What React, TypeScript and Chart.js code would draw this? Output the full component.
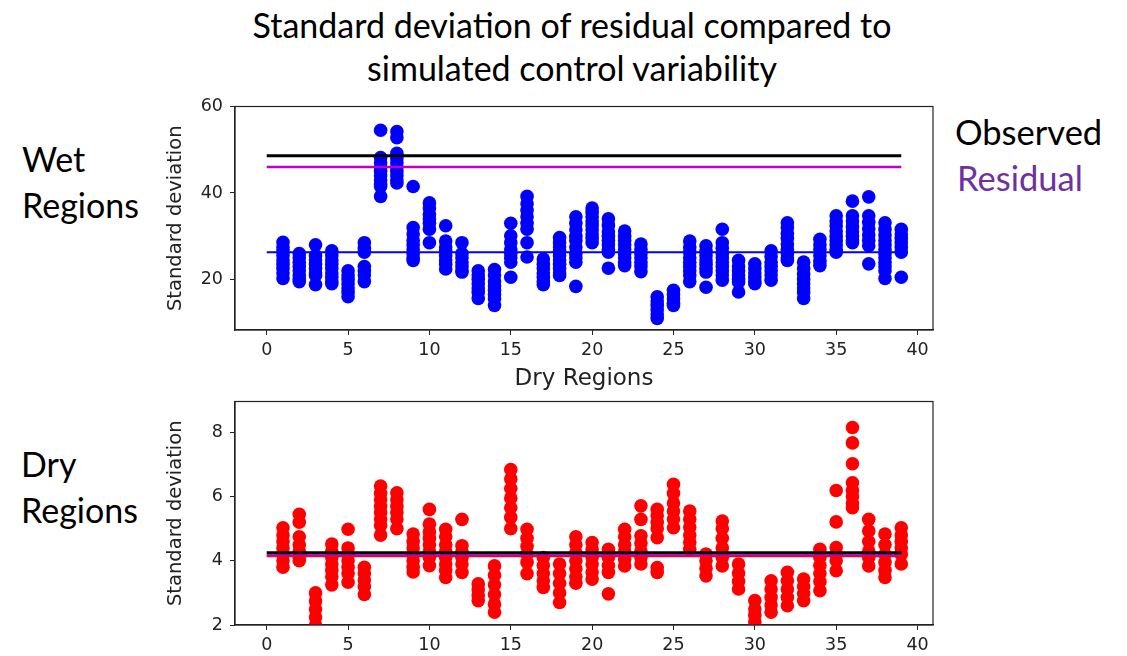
import React, { useEffect, useRef } from "react";
import { Chart, registerables } from "chart.js";

Chart.register(...registerables);

// ---------- data ----------
const regionIds = [1, 2, 3, 4, 5, 6, 7, 8, 9, 10, 11, 12, 13, 14, 15, 16, 17, 18, 19, 20, 21, 22, 23, 24, 25, 26, 27, 28, 29, 30, 31, 32, 33, 34, 35, 36, 37, 38, 39];

// Wet regions: standard deviation of residual, one list per region (ensemble members)
const wetSpread: number[][] = [
  [28.6, 27.5, 26.5, 25.5, 24.5, 23.5, 22.5, 21.5, 20.2],
  [26, 25, 24, 23, 22, 21, 20, 19.5],
  [28, 25.5, 24.5, 23.5, 22.5, 21.5, 20.9, 18.8],
  [26.6, 25.5, 24.5, 23.5, 22.5, 21.5, 20.5, 19.5, 19],
  [22, 21, 20, 19, 18, 17, 16],
  [28.5, 27.2, 26.3, 23, 22, 21, 19.5],
  [54.5, 48.2, 47, 46, 45, 44, 43, 42, 41.5, 39.2],
  [54.2, 52.8, 49.2, 48, 47, 46, 45, 44, 43, 42.3],
  [41.5, 32, 30.5, 29, 28, 27, 26, 25, 24.4],
  [37.7, 36.5, 35, 34, 33, 31.6, 28.5],
  [32.4, 28.9, 27.5, 26.5, 25.5, 24.5, 23.5, 22.4],
  [28.5, 26, 25, 24, 23, 22, 21.7],
  [22, 21, 20, 19, 18, 17, 15.6],
  [22.3, 21, 19.5, 18.5, 17.5, 16.5, 15.5, 14],
  [33, 30.1, 28.5, 27, 26, 25, 24, 20.5],
  [39.2, 37.5, 36, 34.5, 33, 31.6, 28.5, 25.2],
  [24.7, 23.5, 22.5, 21.5, 20.5, 19.5, 18.8],
  [29.7, 28.5, 27.5, 26.5, 25.5, 24.5, 23.5, 22.5, 21.5, 20.9],
  [34.5, 33, 31.5, 30, 29, 27.5, 26, 25, 24, 18.4],
  [36.5, 35.5, 34.5, 33.5, 32.5, 31.5, 30.5, 29.5, 28.5],
  [34, 32.5, 31, 30, 29, 28, 27, 26.3, 22.6],
  [31.2, 30, 29, 28, 27, 26, 25, 24, 23.2],
  [28.2, 27, 26, 25, 24, 23, 21.8],
  [16, 15, 14, 13, 12, 11],
  [17.5, 16.5, 15.5, 14.5, 14],
  [28.9, 27.5, 26.3, 25, 24, 23, 22, 21, 19.5],
  [27.8, 26.5, 25.5, 24.5, 23.5, 22.5, 21.7, 18.2],
  [31.6, 28.5, 27.2, 26, 25, 24, 23, 22, 21, 19.8],
  [24.4, 23, 22, 21, 20, 19.4, 17.1],
  [23.6, 22.5, 21.5, 20.5, 19.5, 19],
  [26.6, 25.3, 24, 23, 22, 21, 19.8],
  [33.1, 32, 30.7, 29.5, 28.2, 27, 26, 25, 24.4],
  [24, 22.5, 21.2, 20, 19, 18, 17, 15.6],
  [29.3, 28, 27, 25.5, 24.2, 23.2],
  [34.7, 33.5, 32.4, 31.2, 30, 29, 28, 27, 26.3],
  [38.1, 34.7, 33.5, 32.2, 31, 30, 29, 28.5],
  [39.1, 34.7, 33.2, 31.7, 30.3, 29, 27.8, 23.6],
  [33.1, 31.6, 30.3, 29, 28, 27, 26, 25, 24, 23, 22, 20.2],
  [31.6, 30.5, 29.5, 28.5, 27.4, 26.3, 20.5],
];

// Dry regions
const drySpread: number[][] = [
  [5.03, 4.8, 4.6, 4.4, 4.2, 4.0, 3.8],
  [5.45, 5.2, 4.75, 4.5, 4.3, 4.1, 4.0],
  [3.0, 2.75, 2.5, 2.25, 2.0],
  [4.52, 4.3, 4.1, 3.9, 3.7, 3.5, 3.25],
  [4.98, 4.4, 4.2, 4.0, 3.8, 3.6, 3.33],
  [3.8, 3.6, 3.4, 3.2, 2.95],
  [6.33, 6.1, 5.9, 5.7, 5.5, 5.3, 5.1, 4.8],
  [6.12, 5.9, 5.7, 5.5, 5.3, 5.0],
  [4.83, 4.6, 4.4, 4.2, 4.0, 3.8, 3.65],
  [5.6, 5.14, 4.9, 4.7, 4.5, 4.3, 4.1, 3.85],
  [4.98, 4.75, 4.5, 4.3, 4.1, 3.9, 3.7, 3.48],
  [5.29, 4.47, 4.3, 4.1, 3.9, 3.64],
  [3.28, 3.1, 2.92, 2.76],
  [3.84, 3.55, 3.25, 2.95, 2.65, 2.4],
  [6.84, 6.55, 6.25, 5.95, 5.65, 5.35, 5.0],
  [4.98, 4.7, 4.45, 4.2, 3.95, 3.6],
  [4.1, 3.85, 3.6, 3.38, 3.17],
  [3.9, 3.6, 3.3, 3.0, 2.7],
  [4.75, 4.5, 4.25, 4.0, 3.75, 3.5, 3.3],
  [4.57, 4.35, 4.1, 3.9, 3.65, 3.43],
  [4.36, 4.1, 3.85, 3.64, 2.97],
  [4.98, 4.75, 4.5, 4.3, 4.05, 3.84],
  [5.71, 5.29, 4.78, 4.55, 4.3, 4.1, 3.9],
  [5.6, 5.4, 5.2, 5.0, 4.72, 3.79, 3.64],
  [6.38, 6.1, 5.8, 5.55, 5.3, 5.03],
  [5.55, 5.3, 5.05, 4.8, 4.58, 4.36],
  [4.21, 4.0, 3.77, 3.53],
  [5.24, 5.0, 4.7, 4.4, 4.1, 3.84],
  [3.9, 3.62, 3.36, 3.12],
  [2.76, 2.5, 2.3, 2.1, 1.9],
  [3.38, 3.12, 2.86, 2.62, 2.4],
  [3.64, 3.38, 3.12, 2.86, 2.6],
  [3.43, 3.2, 2.98, 2.76],
  [4.36, 4.1, 3.85, 3.6, 3.35, 3.07],
  [6.19, 5.21, 4.41, 4.2, 4.0, 3.69],
  [8.15, 7.67, 7.02, 6.43, 6.2, 6.0, 5.8, 5.65],
  [5.29, 4.93, 4.6, 4.3, 4.1, 3.84],
  [4.83, 4.5, 4.2, 3.95, 3.7, 3.48],
  [5.03, 4.8, 4.6, 4.4, 4.2, 3.9],
];

// Reference levels: [observed, residual, mean of regions]
const wetLevels = [48.6, 46.0, 26.3];
const dryLevels = [4.25, 4.17, 4.15];
const levelSpan = [0, 39];

const xTickValues = [0, 5, 10, 15, 20, 25, 30, 35, 40];
const wetTickValues = [20, 40, 60];
const dryTickValues = [2, 4, 6, 8];
const xRange = [-1.95, 40.95];
const wetRange = [8.3, 60];
const dryRange = [2, 8.96];

// ---------- chart helpers ----------
const AXIS_FONT = '"DejaVu Sans", sans-serif';

const framePlugin = {
  id: "frame",
  afterDraw(chart: any) {
    const { ctx, chartArea } = chart;
    const { left, top, right, bottom } = chartArea;
    ctx.save();
    ctx.strokeStyle = "#222";
    ctx.lineWidth = 1.2;
    ctx.strokeRect(left, top, right - left, bottom - top);
    ctx.restore();
  },
};

function levelDataset(value: number, color: string, width: number) {
  return {
    type: "line" as const,
    data: levelSpan.map((x) => ({ x, y: value })),
    borderColor: color,
    backgroundColor: color,
    borderWidth: width,
    pointRadius: 0,
    showLine: true,
    fill: false,
  };
}

function buildConfig(
  spread: number[][],
  levels: number[],
  levelColors: string[],
  levelWidths: number[],
  pointColor: string,
  yRange: number[],
  yTicks: number[],
  xHeight: number,
  xTitle: string | null
): any {
  const points = spread.flatMap((vals, i) => vals.map((v) => ({ x: regionIds[i], y: v })));
  return {
    type: "scatter",
    data: {
      datasets: [
        levelDataset(levels[0], levelColors[0], levelWidths[0]),
        levelDataset(levels[1], levelColors[1], levelWidths[1]),
        levelDataset(levels[2], levelColors[2], levelWidths[2]),
        {
          type: "scatter",
          data: points,
          pointRadius: 6.8,
          pointHoverRadius: 6.8,
          pointBackgroundColor: pointColor,
          pointBorderColor: pointColor,
          pointBorderWidth: 0,
          clip: 0,
        },
      ],
    },
    options: {
      animation: false,
      responsive: false,
      devicePixelRatio: 1,
      layout: { padding: { top: 0, right: 17, left: 0, bottom: 0 } },
      plugins: { legend: { display: false }, tooltip: { enabled: false }, title: { display: false } },
      scales: {
        x: {
          type: "linear",
          min: xRange[0],
          max: xRange[1],
          afterBuildTicks: (s: any) => {
            s.ticks = xTickValues.map((v) => ({ value: v }));
          },
          afterFit: (s: any) => {
            s.height = xHeight;
          },
          grid: { display: true, drawOnChartArea: false, drawTicks: true, tickLength: 5, color: "#222" },
          border: { display: true, color: "#222", width: 1.2 },
          ticks: { color: "#222", font: { family: AXIS_FONT, size: 17.5 }, padding: 5, maxRotation: 0 },
          title: {
            display: !!xTitle,
            text: xTitle || "",
            color: "#222",
            font: { family: AXIS_FONT, size: 23 },
            padding: { top: 0, bottom: 2 },
          },
        },
        y: {
          type: "linear",
          min: yRange[0],
          max: yRange[1],
          afterBuildTicks: (s: any) => {
            s.ticks = yTicks.map((v) => ({ value: v }));
          },
          afterFit: (s: any) => {
            s.width = 85;
          },
          grid: { display: true, drawOnChartArea: false, drawTicks: true, tickLength: 5, color: "#222" },
          border: { display: true, color: "#222", width: 1.2 },
          ticks: { color: "#222", font: { family: AXIS_FONT, size: 17.5 }, padding: 7 },
          title: {
            display: true,
            text: "Standard deviation",
            color: "#222",
            font: { family: AXIS_FONT, size: 19.5 },
            padding: { top: 14, bottom: 0 },
          },
        },
      },
    },
    plugins: [framePlugin],
  };
}

function Panel(props: { make: () => any; left: number; top: number; width: number; height: number }) {
  const ref = useRef<HTMLCanvasElement>(null);
  useEffect(() => {
    const chart = new Chart(ref.current as HTMLCanvasElement, props.make());
    return () => chart.destroy();
  }, []);
  return (
    <canvas
      ref={ref}
      width={props.width}
      height={props.height}
      style={{ position: "absolute", left: props.left, top: props.top, width: props.width, height: props.height }}
    />
  );
}

const SLIDE_FONT = '"Gill Sans", Lato, "Open Sans", sans-serif';

export default function App() {
  const textBase: React.CSSProperties = {
    position: "absolute",
    fontFamily: SLIDE_FONT,
    fontSize: 34,
    lineHeight: "46px",
    color: "#000",
    whiteSpace: "nowrap",
  };
  return (
    <div style={{ position: "absolute", left: 0, top: 0, width: 1127, height: 656, background: "#fff", overflow: "hidden" }}>
      <div style={{ ...textBase, left: 0, top: 3, width: 1144, textAlign: "center", lineHeight: "43px", fontSize: 34 }}>
        Standard deviation of residual compared to
        <br />
        simulated control variability
      </div>
      <div style={{ ...textBase, left: 22, top: 136 }}>
        Wet
        <br />
        Regions
      </div>
      <div style={{ ...textBase, left: 21, top: 441 }}>
        Dry
        <br />
        Regions
      </div>
      <div style={{ ...textBase, left: 955, top: 109, fontSize: 34.5 }}>Observed</div>
      <div style={{ ...textBase, left: 957, top: 155, fontSize: 34.5, color: "#7030A0" }}>Residual</div>

      <Panel
        left={150}
        top={89}
        width={800}
        height={306}
        make={() =>
          buildConfig(
            wetSpread,
            wetLevels,
            ["#000000", "#BF00BF", "#0000FF"],
            [3, 2.4, 2],
            "#0000FF",
            wetRange,
            wetTickValues,
            65,
            "Dry Regions"
          )
        }
      />
      <Panel
        left={150}
        top={384}
        width={800}
        height={272}
        make={() =>
          buildConfig(
            drySpread,
            dryLevels,
            ["#000000", "#BF00BF", "#FF0000"],
            [3.2, 2, 2.6],
            "#FF0000",
            dryRange,
            dryTickValues,
            31,
            null
          )
        }
      />
    </div>
  );
}
